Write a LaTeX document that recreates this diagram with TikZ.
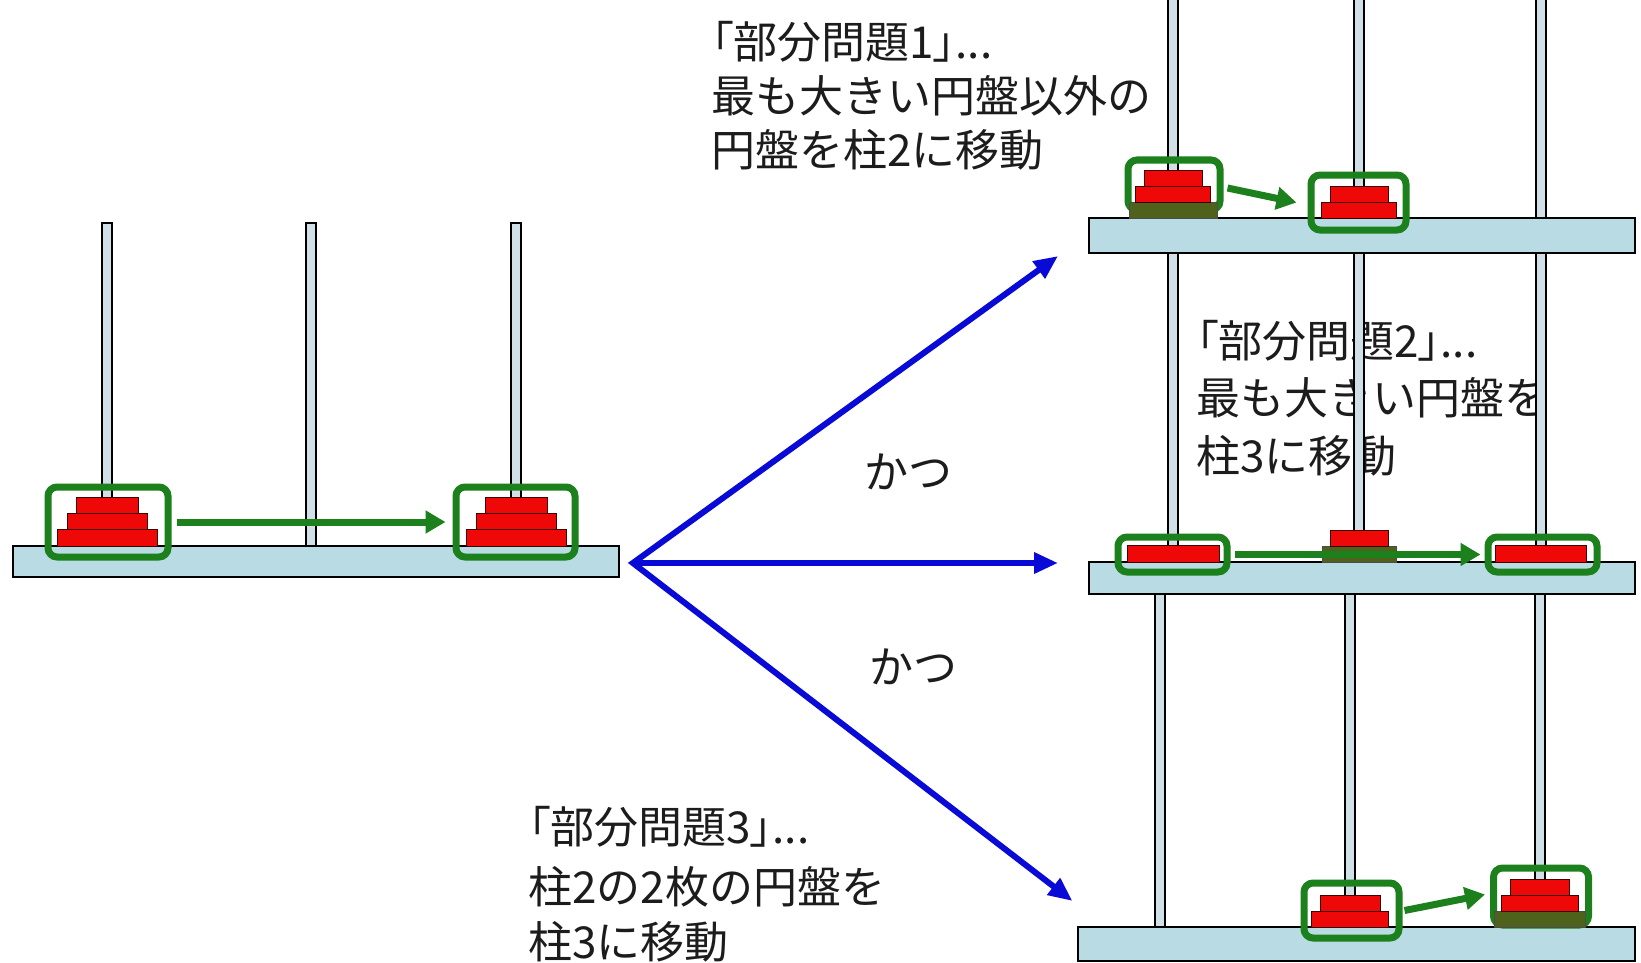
\documentclass[tikz,border=0pt]{standalone}
\usepackage{fontspec}
\setmainfont{Noto Sans CJK JP}
\newfontfamily\jpprop{Noto Sans CJK JP}[RawFeature=+palt]
\usetikzlibrary{arrows.meta}

\definecolor{basefill}{RGB}{185,220,228}
\definecolor{polefill}{RGB}{208,224,230}
\definecolor{diskred}{RGB}{238,8,8}
\definecolor{diskolive}{RGB}{78,98,28}
\definecolor{selgreen}{RGB}{28,128,28}
\definecolor{splitblue}{RGB}{10,10,215}
\definecolor{ink}{RGB}{28,28,28}

% disk: style, centre x, bottom y, width, height
\newcommand\hdisk[5]{\draw[#1] ({#2-#4/2},{#3}) rectangle ({#2+#4/2},{#3-#5});}
% pole: centre x, top y, bottom y
\newcommand\hpole[3]{\draw[pole] ({#1-5},{#2}) rectangle ({#1+5},{#3});}

\begin{document}
\begin{tikzpicture}[x=1pt,y=-1pt,
  basebar/.style={draw=black, line width=1.8pt, fill=basefill, inner sep=0pt},
  pole/.style={draw=black, line width=1.6pt, fill=polefill},
  reddisk/.style={draw=black!75!red, line width=0.8pt, fill=diskred},
  olivedisk/.style={draw=black!70, line width=0.8pt, fill=diskolive},
  selbox/.style={draw=selgreen, line width=7pt, rounded corners=9pt, inner sep=0pt},
  movearrow/.style={draw=selgreen, line width=7pt, -{Triangle[length=20pt,width=22pt]}},
  splitline/.style={draw=splitblue, line width=6pt, line join=miter},
  splithead/.style={-{Triangle[length=24pt,width=20pt]}},
  caption/.style={anchor=base west, inner sep=0pt, text=ink, font=\fontsize{44pt}{52pt}\selectfont},
  andlabel/.style={inner sep=0pt, text=ink, font=\fontsize{44pt}{52pt}\selectfont}]

\useasboundingbox (0,0) rectangle (1641,963);
\fill[white] (0,0) rectangle (1641,963);

% captions (the poles pass over them)
\node[caption] (s1a) at (711,58.6) {\jpprop 「部分問題1」...};
\node[caption] (s1b) at (711,113) {最も大きい円盤以外の};
\node[caption] (s1c) at (711,166.4) {円盤を柱2に移動};
\node[caption] (s2a) at (1196,357) {\jpprop 「部分問題2」...};
\node[caption] (s2b) at (1196,414.4) {最も大きい円盤を};
\node[caption] (s2c) at (1196,472) {柱3に移動};
\node[caption] (s3a) at (528,843.5) {\jpprop 「部分問題3」...};
\node[caption] (s3b) at (528,903) {柱2の2枚の円盤を};
\node[caption] (s3c) at (528,958.7) {柱3に移動};
\node[andlabel] (and1) at (908,472) {かつ};
\node[andlabel] (and2) at (913,667) {かつ};

% poles
\foreach \px in {107,311,516} {\hpole{\px}{223}{548}}
\foreach \px in {1173,1359,1541} {\hpole{\px}{-5}{220}}
\foreach \px in {1173,1359,1541} {\hpole{\px}{252}{564}}
\foreach \px in {1160,1350,1540} {\hpole{\px}{592}{929}}

% bases
\node[basebar, minimum width=606pt, minimum height=31pt] (LB) at (316,561.5) {};
\node[basebar, minimum width=546pt, minimum height=35pt] (TB) at (1362,235.5) {};
\node[basebar, minimum width=546pt, minimum height=32pt] (MB) at (1362,578) {};
\node[basebar, minimum width=557pt, minimum height=34pt] (BB) at (1356.5,944) {};

% selection frames
\node[selbox, minimum width=120pt, minimum height=70pt] (L1) at (108,522) {};
\node[selbox, minimum width=119pt, minimum height=70pt] (L2) at (515.5,522) {};
\node[selbox, minimum width=92pt, minimum height=50pt] (T1) at (1174,185) {};
\node[selbox, minimum width=95pt, minimum height=55pt] (T2) at (1358.5,202.5) {};
\node[selbox, minimum width=109pt, minimum height=35pt] (M1) at (1172.5,554.5) {};
\node[selbox, minimum width=109pt, minimum height=35pt] (M3) at (1542.5,554.5) {};
\node[selbox, minimum width=95pt, minimum height=55pt] (B2) at (1351.5,910.5) {};
\node[selbox, minimum width=95pt, minimum height=57pt] (B3) at (1541,896.5) {};

% disks
\hdisk{reddisk}{107}{546}{100}{17}
\hdisk{reddisk}{107}{529}{80}{16}
\hdisk{reddisk}{107}{513}{62}{16}
\hdisk{reddisk}{516}{546}{100}{17}
\hdisk{reddisk}{516}{529}{80}{16}
\hdisk{reddisk}{516}{513}{62}{16}

\hdisk{olivedisk}{1173}{218}{88}{16}
\hdisk{reddisk}{1173}{202}{75}{16}
\hdisk{reddisk}{1173}{186}{58}{16}
\hdisk{reddisk}{1359}{218}{75}{16}
\hdisk{reddisk}{1359}{202}{58}{16}

\hdisk{reddisk}{1173}{562}{92}{17}
\hdisk{olivedisk}{1359}{562}{74}{16}
\hdisk{reddisk}{1359}{546}{58}{16}
\hdisk{reddisk}{1541}{562}{91}{17}

\hdisk{reddisk}{1350}{927}{77}{16}
\hdisk{reddisk}{1350}{911}{60}{16}
\hdisk{olivedisk}{1540}{927}{91}{16}
\hdisk{reddisk}{1540}{911}{77}{16}
\hdisk{reddisk}{1540}{895}{59}{16}

% moves
\draw[movearrow, shorten <=5pt, shorten >=7pt] (L1) -- (L2);
\draw[movearrow] ([shift={(4,3)}]T1.east) -- ([shift={(-11,0)}]T2.west);
\draw[movearrow, shorten <=4pt, shorten >=4pt] (M1) -- (M3);
\draw[movearrow] ([shift={(2,0)}]B2.east) -- ([shift={(-5,-2)}]B3.west);

% split into sub-problems
\coordinate (fork) at ([shift={(13,1.5)}]LB.east);
\coordinate (tipT) at ([shift={(-30,20.5)}]TB.west);
\coordinate (tipM) at ([shift={(-30,-15)}]MB.west);
\coordinate (tipB) at ([shift={(-4.6,-43)}]BB.west);
\draw[splitline, {Triangle[length=24pt,width=20pt]}-{Triangle[length=24pt,width=20pt]}] (tipT) -- (fork) -- (tipB);
\draw[splitline, splithead] (fork) -- (tipM);
\end{tikzpicture}
\end{document}
